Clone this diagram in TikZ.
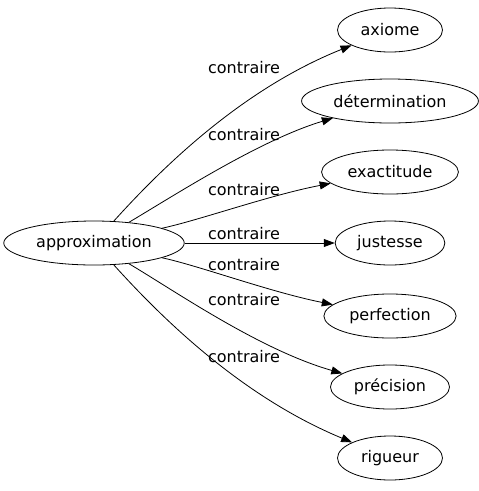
\documentclass[tikz,border=0pt]{standalone}
\usepackage{fontspec}
\setmainfont{DejaVu Sans}
\usetikzlibrary{arrows.meta,shapes.geometric}

\begin{document}
\begin{tikzpicture}[x=1pt,y=-1pt,>={Triangle[length=11pt,width=8pt]}, line width=0.8pt, every node/.style={font=\fontsize{16}{19}\selectfont}]
\tikzstyle{word}=[draw, ellipse, inner xsep=6pt, minimum width=105pt, minimum height=44pt]
\tikzstyle{lbl}=[inner sep=1pt]
\useasboundingbox (0,0) rectangle (479,491);
\node[word] (appr) at (94,243) {approximation};
\node[word] (axi) at (390,30) {axiome};
\node[word] (det) at (390,101) {détermination};
\node[word] (exa) at (390,172) {exactitude};
\node[word] (jus) at (390,243) {justesse};
\node[word] (per) at (390,316) {perfection};
\node[word] (pre) at (390,387) {précision};
\node[word] (rig) at (390,458) {rigueur};
% edges
\draw[->] (appr) .. controls (160,170) and (240,90) .. (axi);
\draw[->] (appr) .. controls (175,195) and (260,140) .. (det);
\draw[->] (appr) .. controls (200,220) and (270,195) .. (exa);
\draw[->] (appr) -- (jus);
\draw[->] (appr) .. controls (200,266) and (270,292) .. (per);
\draw[->] (appr) .. controls (175,291) and (260,350) .. (pre);
\draw[->] (appr) .. controls (160,316) and (240,396) .. (rig);
% labels
\node[lbl] (l1) at (244,68) {contraire};
\node[lbl] (l2) at (244,135) {contraire};
\node[lbl] (l3) at (244,190) {contraire};
\node[lbl] (l4) at (244,234) {contraire};
\node[lbl] (l5) at (244,265) {contraire};
\node[lbl] (l6) at (244,300) {contraire};
\node[lbl] (l7) at (244,357) {contraire};
\end{tikzpicture}
\end{document}
